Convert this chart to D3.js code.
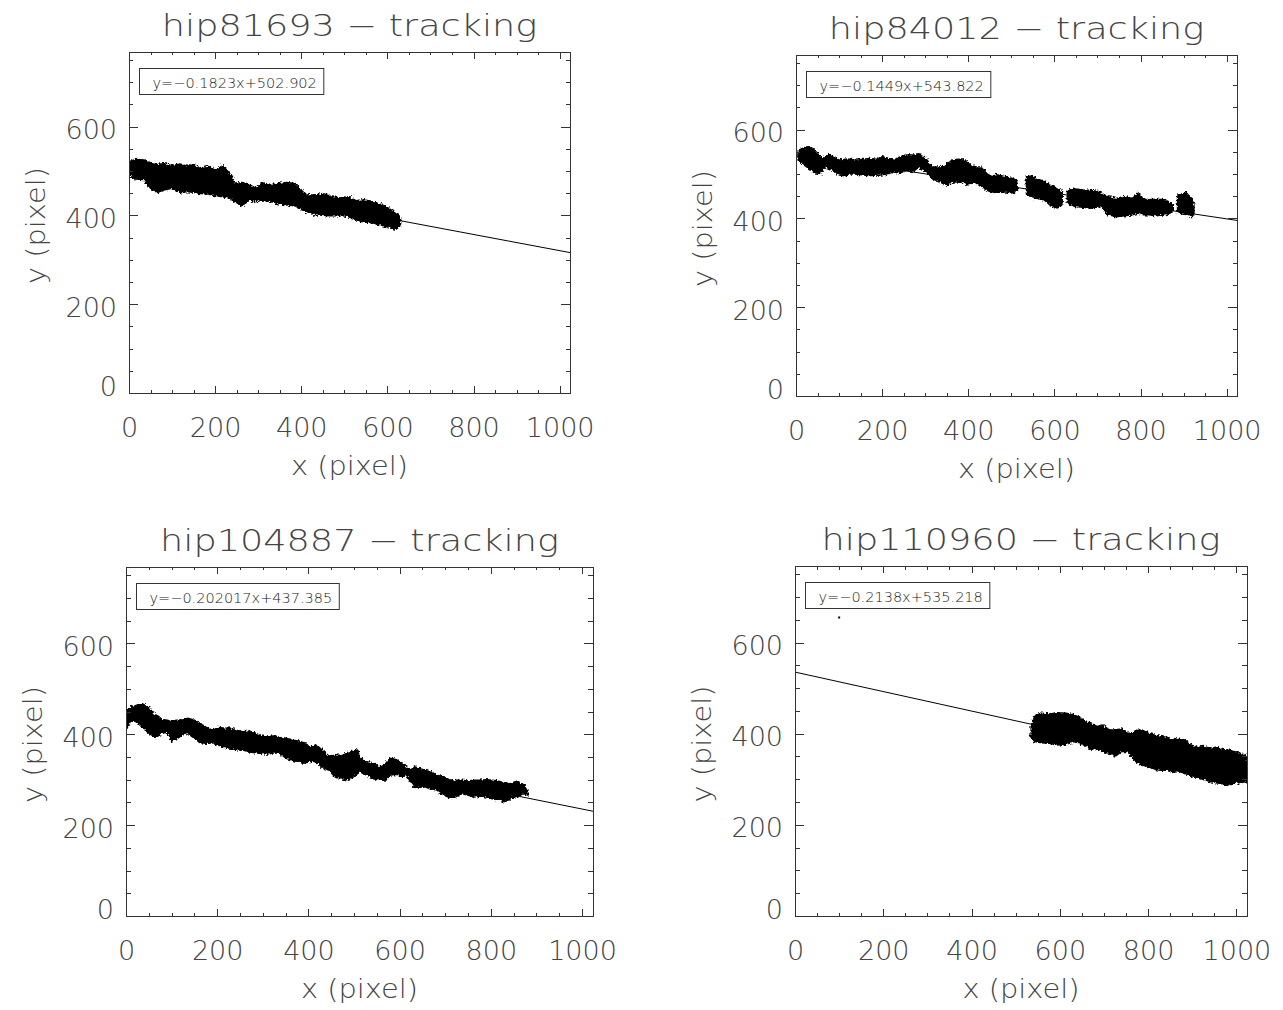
<!DOCTYPE html>
<html>
<head>
<meta charset="utf-8">
<script src="https://cdn.jsdelivr.net/npm/d3@7"></script>
<style>
  body { margin: 0; background: #fff; }
  svg text { font-family: "DejaVu Sans", sans-serif; font-weight: 200; fill: #444; }
</style>
</head>
<body>
<svg id="chart" width="1283" height="1010"></svg>
<script>
// star names, fit coefficients and the fit labels as printed in the legend
var stars = ['hip81693', 'hip84012', 'hip104887', 'hip110960'];
var slopes = [-0.1823, -0.1449, -0.202017, -0.2138];
var intercepts = [502.902, 543.822, 437.385, 535.218];
var fitLabels = ['y=\u22120.1823x+502.902', 'y=\u22120.1449x+543.822',
                 'y=\u22120.202017x+437.385', 'y=\u22120.2138x+535.218'];

var xDomain = [0, 1024], yDomain = [0, 768];
var xTicks = [0, 200, 400, 600, 800, 1000];
var yTicks = [0, 200, 400, 600];

var cloud1 = [[0,521,489],[15,526,482],[35,525,481],[50,517,460],[65,514,451],[80,517,457],
  [100,512,461],[120,516,451],[135,510,454],[150,516,452],[160,506,450],[185,510,448],
  [200,502,445],[218,512,442],[233,495,439],[247,472,430],[262,474,421],[280,469,435],
  [295,461,431],[310,474,435],[328,469,431],[347,472,426],[366,474,424],[385,472,421],
  [400,457,413],[410,446,410],[432,446,402],[451,449,400],[470,442,399],[490,439,400],
  [508,442,398],[527,433,390],[546,435,385],[565,431,383],[584,426,379],[603,416,372],
  [620,405,369],[628,398,375],[632,390,388]];

var cloud2 = [[5,550,531],[14,558,524],[29,561,513],[43,554,503],[57,539,501],[67,535,516],
  [76,545,513],[86,539,509],[100,531,498],[114,533,496],[124,533,500],[138,531,500],
  [157,533,498],[171,535,496],[186,533,498],[200,539,498],[214,535,501],[229,533,505],
  [243,539,501],[257,543,509],[271,543,505],[286,543,516],[295,539,509],[305,531,505],
  [314,516,490],[333,516,483],[348,520,475],[362,531,479],[376,533,483],[390,531,481],
  [400,524,475],[414,516,483],[429,516,472],[443,501,464],[452,494,460],[467,498,458],
  [486,494,460],[500,490,457],[510,487,460],[514,480,462], null,
  [535,494,455],[538,494,453],[548,496,449],[562,488,445],[576,483,442],[590,475,430],
  [605,468,423],[614,464,427],[618,458,435], null,
  [630,462,438],[633,464,434],[648,466,427],[667,464,425],[686,463,423],[705,460,427],
  [714,453,423],[724,449,408],[743,445,404],[762,449,406],[781,445,408],[795,457,412],
  [805,445,408],[819,442,408],[838,443,406],[857,442,408],[871,434,412],[876,428,418], null,
  [886,450,414],[890,453,412],[905,458,408],[919,445,404],[924,434,412]];

var cloud3 = [[0,453,409],[11,460,431],[24,464,427],[38,466,413],[51,457,402],[64,442,393],
  [78,432,402],[91,431,405],[100,427,385],[109,430,388],[123,432,398],[136,435,402],
  [150,431,391],[163,424,381],[176,415,380],[190,409,381],[203,415,376],[217,413,371],
  [230,413,369],[244,409,366],[257,405,365],[270,407,361],[284,402,359],[297,396,358],
  [311,394,356],[324,396,359],[338,393,358],[351,391,347],[364,387,343],[378,385,339],
  [391,381,336],[405,372,341],[418,376,339],[432,363,325],[445,352,321],[458,354,306],
  [472,354,302],[485,359,300],[499,363,306],[508,366,317],[512,350,317],[521,341,314],
  [530,339,310],[543,336,302],[557,328,299],[570,336,300],[579,347,310],[593,344,312],
  [606,336,306],[615,328,310],[624,321,295],[633,328,283],[642,325,284],[655,321,284],
  [669,317,280],[682,310,277],[696,306,266],[709,300,261],[722,299,262],[736,299,269],
  [749,297,266],[763,299,262],[776,299,264],[790,300,262],[803,299,258],[816,297,256],
  [830,293,251],[843,291,258],[857,297,262],[870,290,269],[881,277,266]];

var cloud4 = [[535,416,390],[544,441,383],[558,445,380],[577,443,379],[595,446,375],
  [614,445,377],[633,441,383],[647,434,379],[660,426,372],[670,423,366],[684,416,368],
  [698,419,361],[712,408,357],[726,408,351],[740,410,361],[753,401,361],[763,401,350],
  [772,407,339],[786,408,331],[800,401,328],[814,397,322],[828,394,320],[842,392,320],
  [856,386,315],[870,390,317],[884,386,313],[898,375,306],[912,370,302],[926,372,300],
  [940,368,295],[953,370,293],[967,366,290],[981,364,287],[995,361,291],[1009,356,293],
  [1024,351,295]];

var strays4 = [[100, 655]];

var clouds = [cloud1, cloud2, cloud3, cloud4];
var strays = [[], [], [], strays4];

// plot frames on the page
var frames = [
  {l: 129, r: 570, t: 52, b: 393},
  {l: 796, r: 1237, t: 55, b: 396},
  {l: 126, r: 593, t: 567, b: 916},
  {l: 795, r: 1247, t: 566, b: 916}
];

var svg = d3.select('#chart');

var defs = svg.append('defs');
var rough = defs.append('filter').attr('id', 'rough')
    .attr('x', '-5%').attr('y', '-30%').attr('width', '110%').attr('height', '160%');
rough.append('feTurbulence').attr('type', 'fractalNoise')
    .attr('baseFrequency', 0.45).attr('numOctaves', 2).attr('seed', 4).attr('result', 'n');
rough.append('feDisplacementMap').attr('in', 'SourceGraphic').attr('in2', 'n')
    .attr('scale', 5).attr('xChannelSelector', 'R').attr('yChannelSelector', 'G');

var styleAxis = function(sel) {
    sel.attr('font-size', null).attr('font-family', null).attr('color', '#333');
    sel.select('.domain').remove();
    sel.selectAll('line').attr('shape-rendering', 'crispEdges');
};

// widen a text a little, hershey glyphs run wider than dejavu
var stretch = function(sel, k) {
    sel.attr('textLength', sel.node().getComputedTextLength() * k)
        .attr('lengthAdjust', 'spacingAndGlyphs');
};

var drawPanel = function(f, i) {
    var x = d3.scaleLinear().domain(xDomain).range([f.l, f.r]),
        y = d3.scaleLinear().domain(yDomain).range([f.b, f.t]),
        xLen = 0.02 * (f.b - f.t),
        yLen = 0.02 * (f.r - f.l),
        xMinor = d3.range(0, 1025, 50).filter(function(d) { return d % 200; }),
        yMinor = d3.range(0, 769, 50).filter(function(d) { return d % 200; });

    var g = svg.append('g').attr('class', 'panel');

    defs.append('clipPath').attr('id', 'clip' + i)
        .append('rect').attr('x', f.l).attr('y', f.t)
        .attr('width', f.r - f.l).attr('height', f.b - f.t);

    var plot = g.append('g').attr('clip-path', 'url(#clip' + i + ')');

    // fit line
    plot.append('line')
        .attr('x1', x(xDomain[0])).attr('y1', y(slopes[i] * xDomain[0] + intercepts[i]))
        .attr('x2', x(xDomain[1])).attr('y2', y(slopes[i] * xDomain[1] + intercepts[i]))
        .attr('stroke', '#000').attr('stroke-width', 1);

    // point cloud
    var area = d3.area()
        .defined(function(d) { return d !== null; })
        .x(function(d) { return x(d[0]); })
        .y0(function(d) { return y(d[2]); })
        .y1(function(d) { return y(d[1]); });
    plot.append('path').datum(clouds[i])
        .attr('d', area)
        .attr('fill', '#000')
        .attr('stroke', '#000').attr('stroke-width', 1.5)
        .attr('filter', 'url(#rough)');

    plot.selectAll('rect.stray').data(strays[i]).enter()
        .append('rect').attr('class', 'stray')
        .attr('x', function(d) { return x(d[0]) - 1; })
        .attr('y', function(d) { return y(d[1]) - 1; })
        .attr('width', 2).attr('height', 2).attr('fill', '#000');

    // axes, ticks pointing in
    var bottom = g.append('g').attr('transform', 'translate(0,' + f.b + ')')
        .call(d3.axisBottom(x).tickValues(xTicks).tickSize(-xLen).tickFormat(d3.format('d')))
        .call(styleAxis);
    bottom.selectAll('text').attr('y', 44).attr('dy', null).attr('font-size', 27);
    g.append('g').attr('transform', 'translate(0,' + f.b + ')')
        .call(d3.axisBottom(x).tickValues(xMinor).tickSize(-xLen / 2).tickFormat(''))
        .call(styleAxis);
    g.append('g').attr('transform', 'translate(0,' + f.t + ')')
        .call(d3.axisTop(x).tickValues(xTicks).tickSize(-xLen).tickFormat(''))
        .call(styleAxis);
    g.append('g').attr('transform', 'translate(0,' + f.t + ')')
        .call(d3.axisTop(x).tickValues(xMinor).tickSize(-xLen / 2).tickFormat(''))
        .call(styleAxis);

    var left = g.append('g').attr('transform', 'translate(' + f.l + ',0)')
        .call(d3.axisLeft(y).tickValues(yTicks).tickSize(-yLen).tickPadding(12).tickFormat(d3.format('d')))
        .call(styleAxis);
    left.selectAll('text').attr('font-size', 27)
        .attr('dy', function(d) { return d === 0 ? 2 : 12; });
    g.append('g').attr('transform', 'translate(' + f.l + ',0)')
        .call(d3.axisLeft(y).tickValues(yMinor).tickSize(-yLen / 2).tickFormat(''))
        .call(styleAxis);
    g.append('g').attr('transform', 'translate(' + f.r + ',0)')
        .call(d3.axisRight(y).tickValues(yTicks).tickSize(-yLen).tickFormat(''))
        .call(styleAxis);
    g.append('g').attr('transform', 'translate(' + f.r + ',0)')
        .call(d3.axisRight(y).tickValues(yMinor).tickSize(-yLen / 2).tickFormat(''))
        .call(styleAxis);

    g.append('rect')
        .attr('x', f.l + 0.5).attr('y', f.t + 0.5)
        .attr('width', f.r - f.l).attr('height', f.b - f.t)
        .attr('fill', 'none').attr('stroke', '#333').attr('stroke-width', 1);

    // titles
    g.append('text')
        .attr('x', (f.l + f.r) / 2).attr('y', f.t - 16.5)
        .attr('text-anchor', 'middle').attr('font-size', 30)
        .text(stars[i] + ' \u2212 tracking')
        .call(stretch, 1.22);

    g.append('text')
        .attr('x', (f.l + f.r) / 2).attr('y', f.b + 82)
        .attr('text-anchor', 'middle').attr('font-size', 27)
        .text('x (pixel)')
        .call(stretch, 1.07);

    g.append('text')
        .attr('transform', 'translate(' + (f.l - 84.5) + ',' + ((f.t + f.b) / 2 + 3) + ') rotate(-90)')
        .attr('text-anchor', 'middle').attr('font-size', 27)
        .text('y (pixel)')
        .call(stretch, 1.07);

    // legend box
    var lg = g.append('g').attr('transform', 'translate(' + (f.l + 10.5) + ',' + (f.t + 16.5) + ')');
    var lt = lg.append('text').attr('x', 13).attr('y', 19).attr('font-size', 14.5)
        .style('fill', '#222')
        .text(fitLabels[i]);
    var w = lt.node().getComputedTextLength();
    lg.insert('rect', 'text')
        .attr('width', w + 20).attr('height', 26)
        .attr('fill', '#fff').attr('stroke', '#333').attr('stroke-width', 1);
};

frames.forEach(drawPanel);
</script>
</body>
</html>
